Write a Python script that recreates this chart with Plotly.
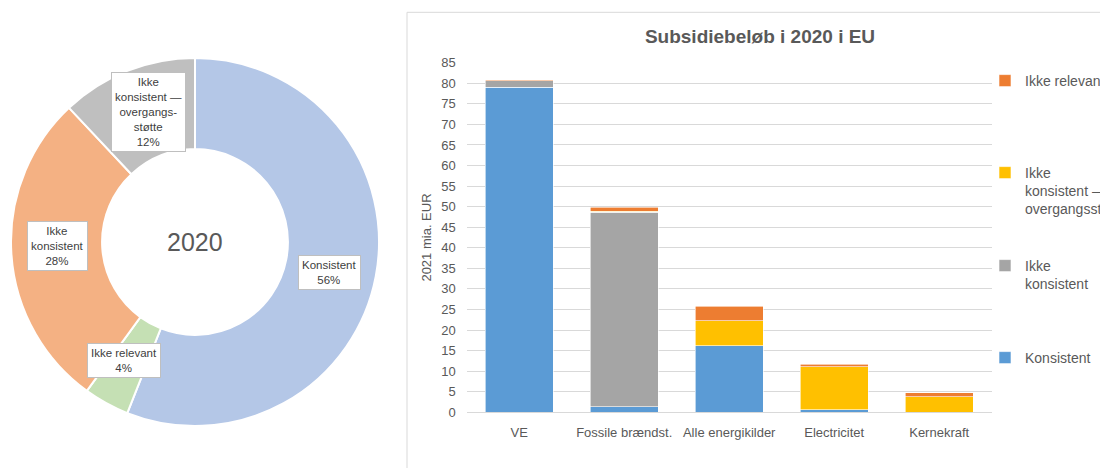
import math
import plotly.graph_objects as go

# ---------------- data ----------------
categories = ["VE", "Fossile brændst.", "Alle energikilder", "Electricitet", "Kernekraft"]
konsistent = [79.0, 1.4, 16.2, 0.6, 0.0]
ikke_konsistent = [1.6, 47.2, 0.0, 0.0, 0.0]
overgang = [0.0, 0.3, 6.0, 10.5, 3.8]
ikke_relevant = [0.3, 1.0, 3.6, 0.6, 1.0]

series_names = ["Konsistent", "Ikke<br>konsistent", "Ikke<br>konsistent —<br>overgangsstøtte", "Ikke relevant"]

donut_labels = ["Konsistent", "Ikke relevant", "Ikke konsistent", "Ikke konsistent — overgangsstøtte"]
donut_label_text = ["Konsistent", "Ikke relevant", "Ikke<br>konsistent", "Ikke<br>konsistent —<br>overgangs-<br>støtte"]
donut_share = [56, 4, 28, 12]
donut_year = "2020"

y_ticks = list(range(0, 90, 5))

# ---------------- styling ----------------
OFF = 0                      # page body margin (removed by post_script)
W, H = 1100 - OFF, 468 - OFF
FONT = "Liberation Sans, Arial, sans-serif"
TXT = "#595959"
bar_colors = ["#5B9BD5", "#A5A5A5", "#FFC000", "#ED7D31"]
donut_colors = ["#B4C7E7", "#C5E0B4", "#F4B183", "#BFBFBF"]

cx, cy, R = 195, 242, 184  # donut centre/radius in screen pixels

def px_x(x):
    return (x - OFF) / W

def px_y(y):
    return 1 - (y - OFF) / H

fig = go.Figure()

# donut
fig.add_trace(go.Pie(
    labels=donut_labels, values=donut_share, hole=0.505, sort=False,
    direction="clockwise", rotation=0,
    marker=dict(colors=donut_colors, line=dict(color="white", width=2)),
    textinfo="none", hoverinfo="label+percent", showlegend=False,
    domain=dict(x=[px_x(cx - R), px_x(cx + R)], y=[px_y(cy + R), px_y(cy - R)]),
))

# donut labels (placed near slice mid-angles)
total = sum(donut_share)
cum = 0
label_r = 138
label_turn = 2.0  # degrees
for txt, v in zip(donut_label_text, donut_share):
    mid = ((cum + v / 2) / total * 360 + label_turn) * math.pi / 180
    cum += v
    lx = cx + label_r * math.sin(mid)
    ly = cy - label_r * math.cos(mid)
    fig.add_annotation(
        x=px_x(lx), y=px_y(ly), xref="paper", yref="paper",
        xanchor="center", yanchor="middle",
        text=f"{txt}<br>{round(v / total * 100)}%", showarrow=False,
        font=dict(family=FONT, size=11.5, color="#404040"), align="center",
        bgcolor="white", bordercolor="#BFBFBF", borderwidth=1, borderpad=3,
    )

fig.add_annotation(x=px_x(cx), y=px_y(cy), xref="paper", yref="paper",
                   xanchor="center", yanchor="middle",
                   text=donut_year, showarrow=False,
                   font=dict(family=FONT, size=25, color=TXT))

# stacked bars
bar_series = [konsistent, ikke_konsistent, overgang, ikke_relevant]
legend_ids = ["legend4", "legend3", "legend2", "legend"]
for name, vals, col, lg in zip(series_names, bar_series, bar_colors, legend_ids):
    fig.add_trace(go.Bar(
        x=categories, y=vals, name=name, marker=dict(color=col, line=dict(color="white", width=0.6)),
        legend=lg,
    ))

legend_tops = {"legend": 65, "legend2": 157, "legend3": 250, "legend4": 342}
legend_common = dict(x=px_x(985), xanchor="left", yanchor="top", bgcolor="rgba(0,0,0,0)",
                     font=dict(family=FONT, size=14, color=TXT), itemwidth=30, valign="top",
                     borderwidth=0)
legend_layout = {}
for lg, top in legend_tops.items():
    legend_layout[lg] = dict(y=px_y(top), **legend_common)

# chart frame
fig.add_shape(type="rect", xref="paper", yref="paper",
              x0=px_x(407), x1=1.05, y0=-0.05, y1=px_y(12.3),
              line=dict(color="#D9D9D9", width=1), fillcolor="rgba(0,0,0,0)", layer="below")

fig.update_layout(
    width=W, height=H, margin=dict(l=0, r=0, t=0, b=0, autoexpand=False),
    paper_bgcolor="white", plot_bgcolor="white",
    barmode="stack", bargap=0.355,
    font=dict(family=FONT, color=TXT, size=13),
    title=dict(text="<b>Subsidiebeløb i 2020 i EU</b>", x=px_x(760), xanchor="center",
               y=px_y(36), yanchor="middle", font=dict(family=FONT, size=19, color=TXT)),
    xaxis=dict(domain=[px_x(466.7), px_x(991.7)], showgrid=False, showline=True,
               linecolor="#D9D9D9", linewidth=1, ticks="", tickfont=dict(size=13, color=TXT),
               ticklabelstandoff=8),
    yaxis=dict(domain=[px_y(412.3), px_y(62.7)], range=[0, 85], tickvals=y_ticks,
               showgrid=True, gridcolor="#D9D9D9", gridwidth=1, zeroline=False,
               ticks="", tickfont=dict(size=13, color=TXT), ticklabelstandoff=10,
               title=dict(text="2021 mia. EUR", font=dict(size=13, color=TXT), standoff=6)),
    **legend_layout,
)

fig.write_html(
    "out.html",
    config={"displayModeBar": False},
    post_script=("document.body.style.margin='0';"
                 "document.documentElement.style.overflow='hidden';"
                 "document.body.style.overflow='hidden';"),
)
